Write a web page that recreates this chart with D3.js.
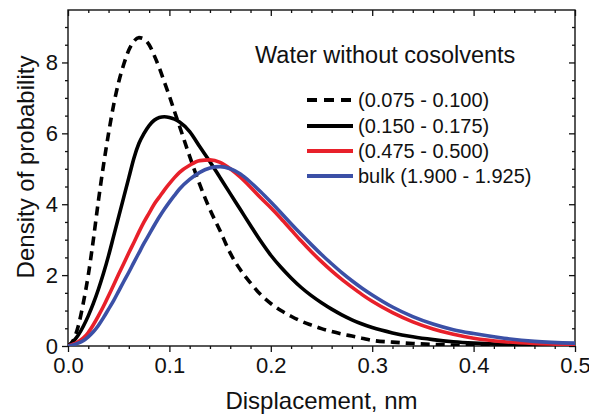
<!DOCTYPE html>
<html>
<head>
<meta charset="utf-8">
<script src="https://cdn.jsdelivr.net/npm/d3@7/dist/d3.min.js"></script>
<style>
  html, body { margin: 0; padding: 0; background: #fff; }
  svg { display: block; }
  text { font-family: "Liberation Sans", Arial, sans-serif; fill: #111; }
</style>
</head>
<body>
<svg id="chart" width="589" height="414"></svg>
<script>
// ---- data ----
const displacement = [0, 0.005, 0.01, 0.015, 0.02, 0.025, 0.03, 0.035, 0.04, 0.045, 0.05, 0.055, 0.06, 0.065, 0.07, 0.075, 0.08, 0.085, 0.09, 0.095, 0.1, 0.105, 0.11, 0.12, 0.13, 0.14, 0.15, 0.16, 0.17, 0.18, 0.19, 0.2, 0.21, 0.22, 0.23, 0.24, 0.25, 0.26, 0.27, 0.28, 0.29, 0.3, 0.32, 0.34, 0.36, 0.38, 0.4, 0.43, 0.46, 0.5];
const layer075 = [0, 0.15, 0.55, 1.2, 2.0, 3.0, 4.1, 5.1, 6.0, 6.8, 7.45, 7.95, 8.35, 8.6, 8.7, 8.66, 8.5, 8.2, 7.85, 7.45, 7.05, 6.62, 6.2, 5.35, 4.55, 3.85, 3.25, 2.62, 2.15, 1.78, 1.45, 1.2, 1.0, 0.84, 0.7, 0.59, 0.49, 0.41, 0.34, 0.28, 0.22, 0.16, 0.11, 0.07, 0.045, 0.025, 0.012, 0.005, 0.002, 0];
const layer150 = [0, 0.12, 0.3, 0.55, 0.85, 1.2, 1.6, 2.05, 2.55, 3.1, 3.65, 4.2, 4.75, 5.3, 5.72, 6.0, 6.22, 6.37, 6.45, 6.47, 6.45, 6.4, 6.32, 6.05, 5.62, 5.2, 4.75, 4.3, 3.85, 3.4, 2.96, 2.56, 2.22, 1.92, 1.65, 1.42, 1.22, 1.04, 0.88, 0.74, 0.62, 0.52, 0.37, 0.26, 0.18, 0.12, 0.08, 0.045, 0.025, 0.01];
const layer475 = [0, 0.05, 0.12, 0.22, 0.38, 0.6, 0.85, 1.12, 1.42, 1.72, 2.03, 2.33, 2.63, 2.92, 3.22, 3.5, 3.75, 4.0, 4.2, 4.4, 4.58, 4.75, 4.9, 5.1, 5.23, 5.25, 5.18, 5.0, 4.76, 4.48, 4.18, 3.9, 3.6, 3.28, 2.96, 2.66, 2.38, 2.12, 1.88, 1.66, 1.45, 1.26, 0.94, 0.68, 0.48, 0.33, 0.22, 0.12, 0.07, 0.04];
const layerBulk = [0, 0.03, 0.08, 0.15, 0.26, 0.4, 0.58, 0.8, 1.04, 1.28, 1.55, 1.82, 2.08, 2.36, 2.63, 2.9, 3.15, 3.4, 3.64, 3.86, 4.06, 4.25, 4.43, 4.7, 4.9, 5.02, 5.06, 5.0, 4.85, 4.62, 4.35, 4.06, 3.76, 3.45, 3.15, 2.86, 2.58, 2.32, 2.07, 1.84, 1.63, 1.44, 1.1, 0.83, 0.62, 0.46, 0.35, 0.22, 0.13, 0.08];

const seriesNames = ["(0.075 - 0.100)", "(0.150 - 0.175)", "(0.475 - 0.500)", "bulk (1.900 - 1.925)"];
const seriesValues = [layer075, layer150, layer475, layerBulk];
const seriesColors = ["#000000", "#000000", "#e8202a", "#3b50a6"];
const seriesDashed = [true, false, false, false];

const xMajorTicks = [0, 0.1, 0.2, 0.3, 0.4, 0.5];
const xTickLabels = ["0.0", "0.1", "0.2", "0.3", "0.4", "0.5"];
const yMajorTicks = [0, 2, 4, 6, 8];
const yTickLabels = ["0", "2", "4", "6", "8"];
const xTitle = "Displacement, nm";
const yTitle = "Density of probability";
const legendTitle = "Water without cosolvents";

// ---- layout ----
const L = 68, R = 575, T = 10, B = 346;
const svg = d3.select("#chart");
const x = d3.scaleLinear().domain([0, 0.5]).range([L, R]);
const y = d3.scaleLinear().domain([0, 9.48]).range([B, T]);

const xMinor = d3.range(0, 0.5001, 0.02).filter(v => !xMajorTicks.some(m => Math.abs(m - v) < 1e-6));
const yMinor = d3.range(0, 9.48, 0.5).filter(v => !yMajorTicks.some(m => Math.abs(m - v) < 1e-6));

function styleAxis(g) {
  g.select(".domain").remove();
  g.selectAll("line").attr("stroke", "#111").attr("stroke-width", 1.3);
}

// bottom axis: outward ticks
const gxB = svg.append("g").attr("transform", `translate(0,${B})`)
  .call(d3.axisBottom(x).tickValues(xMajorTicks).tickSize(6).tickPadding(5)
        .tickFormat((d, i) => xTickLabels[i]));
styleAxis(gxB);
gxB.selectAll("text").attr("font-size", 22).attr("fill", "#111");
svg.append("g").attr("transform", `translate(0,${B})`)
  .call(d3.axisBottom(x).tickValues(xMinor).tickSize(3).tickFormat(""))
  .call(styleAxis);

// top axis: inward ticks
svg.append("g").attr("transform", `translate(0,${T})`)
  .call(d3.axisBottom(x).tickValues(xMajorTicks).tickSize(6).tickFormat(""))
  .call(styleAxis);
svg.append("g").attr("transform", `translate(0,${T})`)
  .call(d3.axisBottom(x).tickValues(xMinor).tickSize(3).tickFormat(""))
  .call(styleAxis);

// left axis: outward ticks
const gyL = svg.append("g").attr("transform", `translate(${L},0)`)
  .call(d3.axisLeft(y).tickValues(yMajorTicks).tickSize(6).tickPadding(4)
        .tickFormat((d, i) => yTickLabels[i]));
styleAxis(gyL);
gyL.selectAll("text").attr("font-size", 22).attr("fill", "#111");
svg.append("g").attr("transform", `translate(${L},0)`)
  .call(d3.axisLeft(y).tickValues(yMinor).tickSize(3).tickFormat(""))
  .call(styleAxis);

// right axis: inward ticks
svg.append("g").attr("transform", `translate(${R},0)`)
  .call(d3.axisLeft(y).tickValues(yMajorTicks).tickSize(6).tickFormat(""))
  .call(styleAxis);
svg.append("g").attr("transform", `translate(${R},0)`)
  .call(d3.axisLeft(y).tickValues(yMinor).tickSize(3).tickFormat(""))
  .call(styleAxis);

// frame
svg.append("rect").attr("x", L).attr("y", T).attr("width", R - L).attr("height", B - T)
  .attr("fill", "none").attr("stroke", "#111").attr("stroke-width", 1.4);

// clip
svg.append("clipPath").attr("id", "clip").append("rect")
  .attr("x", L).attr("y", T - 5).attr("width", R - L).attr("height", B - T + 5);

const line = d3.line().x(d => x(d[0])).y(d => y(d[1])).curve(d3.curveMonotoneX);
const plot = svg.append("g").attr("clip-path", "url(#clip)");
seriesValues.forEach((vals, i) => {
  const pts = displacement.map((d, k) => [d, vals[k]]);
  plot.append("path").datum(pts)
    .attr("d", line)
    .attr("fill", "none")
    .attr("stroke", seriesColors[i])
    .attr("stroke-width", 3.6)
    .attr("stroke-linecap", seriesDashed[i] ? "butt" : "round")
    .attr("stroke-dasharray", seriesDashed[i] ? "9,6" : null);
});

// titles
svg.append("text").attr("x", (L + R) / 2).attr("y", 409)
  .attr("text-anchor", "middle").attr("font-size", 24).text(xTitle);
svg.append("text").attr("transform", `translate(34,${167}) rotate(-90)`)
  .attr("text-anchor", "middle").attr("font-size", 24).text(yTitle);

// legend
svg.append("text").attr("x", 255).attr("y", 63).attr("font-size", 23.5).text(legendTitle);
const legRows = [100, 126, 151, 176];
seriesNames.forEach((name, i) => {
  svg.append("line").attr("x1", 307).attr("x2", 353)
    .attr("y1", legRows[i]).attr("y2", legRows[i])
    .attr("stroke", seriesColors[i]).attr("stroke-width", 4)
    .attr("stroke-dasharray", seriesDashed[i] ? "10,7" : null);
  svg.append("text").attr("x", 358).attr("y", legRows[i] + 7)
    .attr("font-size", 20).text(name);
});
</script>
</body>
</html>
